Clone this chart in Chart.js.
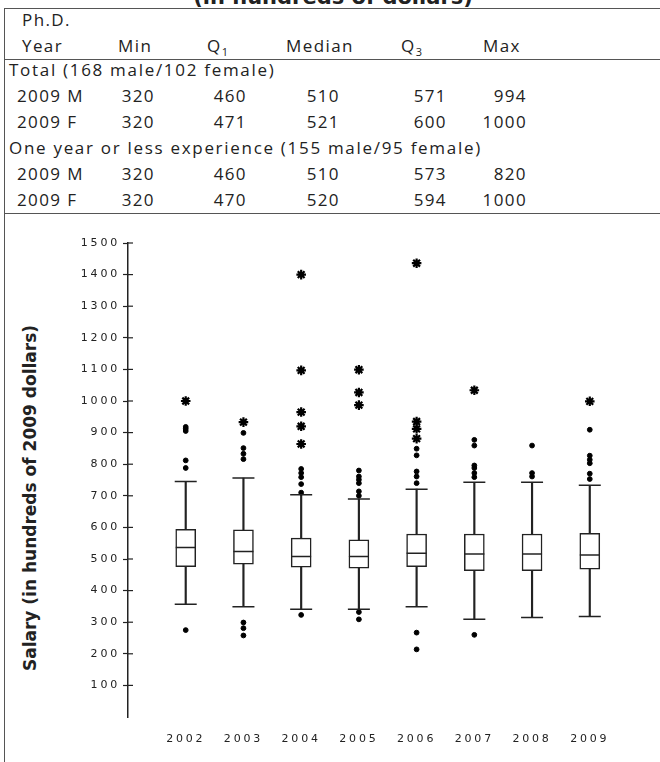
<!DOCTYPE html>
<html>
<head>
<meta charset="utf-8">
<script src="https://cdn.jsdelivr.net/npm/chart.js@4"></script>
<style>
  html, body { margin: 0; padding: 0; background: #fff; }
  #page { position: relative; width: 660px; height: 762px; overflow: hidden; font-family: "Open Sans", sans-serif; color: #222; }
  .hline { position: absolute; left: 4px; right: 0; height: 0; border-top: 1.5px solid #555; }
  .vline { position: absolute; left: 4px; top: 8px; bottom: 0; width: 0; border-left: 1.5px solid #555; }
  .row { position: absolute; left: 0; width: 660px; height: 20px; font-size: 17px; line-height: 20px; letter-spacing: 1.4px; }
  .row.group { letter-spacing: 1.7px; }
  .row span { position: absolute; top: 0; white-space: nowrap; }
  sub { font-size: 11px; vertical-align: -4px; }
  #title { position: absolute; left: 0; width: 666px; top: -15px; line-height: 24px; text-align: center; font: bold 21px "DejaVu Sans", sans-serif; }
  #ytitle { position: absolute; left: 30px; top: 498px; transform: translate(-50%, -50%) rotate(-90deg); white-space: nowrap; font: bold 17px "DejaVu Sans", sans-serif; color: #222; }
  #chartBox { position: absolute; left: 0; top: 225px; width: 660px; height: 537px; }
</style>
</head>
<body>
<div id="page">
  <div id="title">(in hundreds of dollars)</div>
  <div class="hline" style="top:8px"></div>
  <div class="hline" style="top:59px"></div>
  <div class="hline" style="top:213px"></div>
  <div class="vline"></div>
  <div id="table"></div>
  <div id="ytitle">Salary (in hundreds of 2009 dollars)</div>
  <div id="chartBox"><canvas id="chart"></canvas></div>
</div>
<script>
// summary table (hundreds of dollars)
const tableRows = [
  ['2009 M', 320, 460, 510, 571, 994],
  ['2009 F', 320, 471, 521, 600, 1000],
  ['2009 M', 320, 460, 510, 573, 820],
  ['2009 F', 320, 470, 520, 594, 1000]
];
const groupTitles = ['Total (168 male/102 female)', 'One year or less experience (155 male/95 female)'];

// box plot data by Ph.D. year
const years = [2002, 2003, 2004, 2005, 2006, 2007, 2008, 2009];
const lowWhisker = [357, 349, 341, 341, 349, 309, 315, 318];
const q1 = [476, 484, 474, 471, 476, 463, 463, 468];
const median = [536, 524, 508, 508, 518, 516, 516, 513];
const q3 = [594, 592, 566, 561, 579, 579, 579, 581];
const highWhisker = [745, 756, 703, 690, 721, 743, 743, 733];
const outliers = [
  [275, 788, 812, 905, 912, 918],
  [258, 281, 299, 816, 833, 851, 899],
  [323, 710, 737, 759, 772, 785],
  [309, 332, 700, 714, 740, 751, 761, 780],
  [214, 267, 740, 761, 777, 828, 849],
  [260, 759, 772, 788, 796, 859, 877],
  [761, 772, 859],
  [753, 770, 803, 814, 827, 909]
];
const extremes = [
  [1000],
  [933],
  [864, 920, 965, 1097, 1400],
  [987, 1027, 1099],
  [881, 912, 935, 1436],
  [1034],
  [],
  [999]
];

// --- table ---
const table = document.getElementById('table');
const valueRight = [155, 247, 340, 447, 527];
function addRow(y, cells, cls) {
  const div = document.createElement('div');
  div.className = 'row' + (cls ? ' ' + cls : '');
  div.style.top = y + 'px';
  cells.forEach(c => {
    const s = document.createElement('span');
    s.innerHTML = c.text;
    if (c.right != null) { s.style.right = (660 - c.right) + 'px'; } else { s.style.left = c.left + 'px'; }
    div.appendChild(s);
  });
  table.appendChild(div);
}
addRow(10, [{ text: 'Ph.D.', left: 22 }]);
addRow(36, [
  { text: 'Year', left: 22 }, { text: 'Min', left: 118 }, { text: 'Q<sub>1</sub>', left: 207 },
  { text: 'Median', left: 286 }, { text: 'Q<sub>3</sub>', left: 401 }, { text: 'Max', left: 483 }
]);
let rowTop = 60;
tableRows.forEach((r, i) => {
  if (i % 2 === 0) {
    addRow(rowTop, [{ text: groupTitles[i / 2], left: 9 }], 'group');
    rowTop += 26;
  }
  const cells = [{ text: r[0], left: 17 }];
  r.slice(1).forEach((v, j) => cells.push({ text: String(v), right: valueRight[j] }));
  addRow(rowTop, cells);
  rowTop += 26;
});

// --- chart ---
const ink = '#222';
const pts = arr => years.map((y, i) => ({ x: y, y: arr[i] }));
const spread = list => list.flatMap((vals, i) => vals.map(v => ({ x: years[i], y: v })));

// wide tick lettering
const spacing = {
  id: 'spacing',
  beforeDraw(chart) { chart.ctx.letterSpacing = '2.8px'; }
};
// y tick marks cross the axis line
const crossTicks = {
  id: 'crossTicks',
  afterDraw(chart) {
    const s = chart.scales.y, ctx = chart.ctx;
    ctx.save();
    ctx.strokeStyle = ink;
    ctx.lineWidth = 1.2;
    s.ticks.forEach(t => {
      const py = s.getPixelForValue(t.value);
      ctx.beginPath();
      ctx.moveTo(s.right, py);
      ctx.lineTo(s.right + 5, py);
      ctx.stroke();
    });
    ctx.restore();
  }
};

new Chart(document.getElementById('chart'), {
  type: 'bar',
  data: {
    datasets: [
      { type: 'line', showLine: false, data: pts(median), pointStyle: 'line', pointRadius: 10, pointBorderColor: ink, pointBorderWidth: 1.5 },
      { type: 'line', showLine: false, data: pts(lowWhisker).concat(pts(highWhisker)), pointStyle: 'line', pointRadius: 11, pointBorderColor: ink, pointBorderWidth: 1.5 },
      { type: 'line', showLine: false, data: spread(outliers), pointStyle: 'circle', pointRadius: 2.4, pointBackgroundColor: '#000', pointBorderColor: '#000', pointBorderWidth: 1 },
      { type: 'line', showLine: false, data: spread(extremes), pointStyle: 'star', pointRadius: 4.8, pointBackgroundColor: '#000', pointBorderColor: '#000', pointBorderWidth: 2.2 },
      { data: years.map((y, i) => ({ x: y, y: [q1[i], q3[i]] })), backgroundColor: '#fff', borderColor: ink, borderWidth: 1.5, borderSkipped: false, barThickness: 20, grouped: false },
      { data: years.map((y, i) => ({ x: y, y: [lowWhisker[i], q1[i]] })), backgroundColor: ink, barThickness: 1.5, grouped: false },
      { data: years.map((y, i) => ({ x: y, y: [q3[i], highWhisker[i]] })), backgroundColor: ink, barThickness: 1.5, grouped: false }
    ]
  },
  options: {
    responsive: true,
    maintainAspectRatio: false,
    animation: false,
    layout: { padding: { top: 18, left: 0, right: 0, bottom: 0 } },
    plugins: { legend: { display: false }, tooltip: { enabled: false } },
    scales: {
      x: {
        type: 'linear', min: 2001, max: 2010, offset: false,
        grid: { display: false, drawTicks: false },
        border: { display: false },
        ticks: { color: ink, font: { family: 'DejaVu Sans', size: 11 }, padding: 16, maxRotation: 0, callback: v => String(v) },
        afterBuildTicks: s => { s.ticks = years.map(v => ({ value: v })); },
        afterFit: s => { s.height = 45; }
      },
      y: {
        min: 0, max: 1500,
        ticks: { stepSize: 100, color: ink, font: { family: 'DejaVu Sans', size: 11 }, padding: 3, callback: v => String(v) },
        afterBuildTicks: s => { s.ticks = s.ticks.filter(t => t.value > 0); },
        afterFit: s => { s.width = 128; },
        grid: { drawOnChartArea: false, tickLength: 5, color: ink, tickWidth: 1.2 },
        border: { display: true, color: ink, width: 1.5 }
      }
    }
  },
  plugins: [spacing, crossTicks]
});
</script>
</body>
</html>
